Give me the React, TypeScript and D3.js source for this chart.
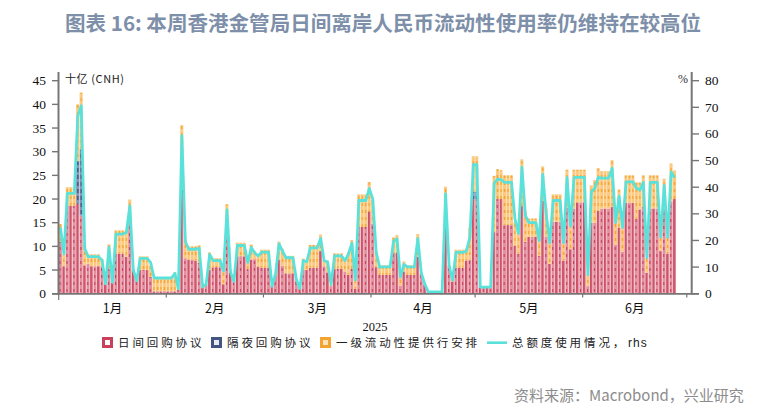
import React from "react";
import * as d3 from "d3";

const title = "图表 16: 本周香港金管局日间离岸人民币流动性使用率仍维持在较高位";
const source = "资料来源：Macrobond，兴业研究";
const leftTicks = [0, 5, 10, 15, 20, 25, 30, 35, 40, 45];
const rightTicks = [0, 10, 20, 30, 40, 50, 60, 70, 80];
const monthLabels = ["1月", "2月", "3月", "4月", "5月", "6月"];
const monthStarts = ["2025-01-01", "2025-02-01", "2025-03-01", "2025-04-01", "2025-05-01", "2025-06-01", "2025-07-01"];
const firstDay = "2025-01-01";

const intradayRepo = [
  11, 5.8, 18.6, 18.6, 18.6, 19, 16.5, 6, 6.3, 5.8,
  5.8, 5.8, 5.8, 2, 5.3, 2.3, 8.5, 8.5, 8.5, 7.8,
  15.5, 5, 2.7, 5, 5, 5, 3.6, .5, .5, .5,
  .5, .5, .5, .5, .9, 20.5, 7.5, 7.2, 7.2, 7,
  6.5, 1.3, 1.9, 5, 5.6, 5.6, 5.6, 2, 12, 4.5,
  2.6, 7.9, 7.9, 7.9, 5.2, 7.2, 7.3, 5.7, 5.5, 5.5,
  5.5, 1.7, 4, 7.2, 5.9, 4.3, 4.3, 4.3, 2.8, 1.1,
  5, 5, 5.5, 5.5, 5.5, 9, 5.8, 4.5, 1.6, 5.3,
  5.3, 5.3, 4.7, 4, 5.3, 1, 14.1, 14.1, 14.1, 17.4,
  14.8, 5.6, 4, 4, 4, 4, 8.6, 8.6, 1.7, 4.7,
  4, 4, 4, 7.8, 4.3, 1.9, .4, .3, .3, .3,
  .3, 14, 5.9, 2.5, 5.5, 5.5, 5.5, 7, 7.2, 20,
  20, 1.3, 1.3, 1.3, 1.3, 13, 20, 20, 14.5, 14.5,
  14.5, 10.1, 8.5, 18.5, 11, 12, 12, 12, 8, 19.7,
  12, 6.3, 15.2, 15.2, 15.2, 7, 18.2, 9.4, 18, 19.3,
  19.3, 19.3, 1.6, 15, 15, 17.5, 18, 18, 18, 18.3,
  10.3, 14, 8.9, 19.2, 19.2, 19.2, 15.8, 17.8, 18.3, 4.4,
  18, 18, 18, 9, 18, 8.5, 19.5, 20,
];
const overnightRepo = [
  0, 0, 0, 0, 0, 9, 14, 0, 0, 0,
  0, 0, 0, 0, 0, 0, 0, 0, 0, 0,
  0, 0, 0, 0, 0, 0, 0, 0, 0, 0,
  0, 0, 0, 0, 0, 1.5, 0, 0, 0, 0,
  0, 0, 0, 0, 0, 0, 0, 0, 0, 0,
  0, 0, 0, 0, 0, 0, 0, 0, 0, 0,
  0, 0, 0, 0, 0, 0, 0, 0, 0, 0,
  0, 0, 0, 0, 0, 0, 0, 0, 0, 0,
  0, 0, 0, 0, 0, 0, 0, 0, 0, 0,
  0, 0, 0, 0, 0, 0, 0, 0, 0, 0,
  0, 0, 0, 0, 0, 0, 0, 0, 0, 0,
  0, 0, 0, 0, 0, 0, 0, 0, 0, 1.6,
  1.6, 0, 0, 0, 0, 0, 0, 0, 0, 0,
  0, 0, 0, 0, 0, 0, 0, 0, 0, 0,
  0, 0, 0, 0, 0, 0, 0, 0, 0, 0,
  0, 0, 0, 0, 0, 0, 0, 0, 0, 0,
  0, 0, 0, 0, 0, 0, 0, 0, 0, 0,
  0, 0, 0, 0, 0, 0, 0, 0,
];
const standingFacility = [
  3.7, 2.5, 3.9, 3.9, 3.9, 12, 12, 4.5, 2, 2.5,
  2.5, 2.5, 1.5, .1, 5.1, .2, 4.9, 4.9, 4.9, 5.6,
  4.4, .2, .2, 2.9, 2.9, 2.9, 2.4, 2.8, 2.8, 2.8,
  2.8, 2.8, 2.8, 4, .1, 13.6, 4, 2.8, 2.8, 3,
  3.7, .2, .1, 3.7, 1.9, 1.9, 1.9, 2.8, 6.9, .5,
  .2, 2.9, 2.9, 2.9, 1.8, 3.2, 1.7, 2.7, 3.8, 3.8,
  3.8, .1, .2, 3.8, 3.6, 3.7, 3.7, 3.7, .2, .1,
  2.4, 1.8, 4.8, 4.8, 4.8, 3.5, 1.4, 2.5, .4, 3.2,
  3.2, 3.2, 2.6, 4.8, 6, 2, 6.9, 6.9, 6.9, 6.2,
  5, 3.4, 2, 2, 2, 2, 3.3, 3.8, 1.8, 2.1,
  2, 2, 2, 4.8, .2, .1, .1, .1, .1, .1,
  .1, 8.6, .1, .5, 3.8, 3.8, 3.8, 2.5, 6.8, 7.4,
  7.4, .2, .2, .2, .2, 11.9, 6.3, 6.1, 10.5, 10.5,
  10.5, 5, 4.3, 9.9, 6.5, 3.9, 3.9, 3.9, 4, 7.2,
  6, 5.2, 5.8, 5.8, 5.8, 5, 8, 5.1, 8.2, 6.9,
  6.9, 6.9, 2.4, 7.9, 9, 9, 7.9, 7.9, 7.9, 9.9,
  4.7, 8, 5.1, 5.8, 5.8, 5.8, 7.7, 5.7, 6.7, 3.1,
  7, 7, 7, 3.5, 6.3, 3.5, 8, 6,
];
const usagePct = [
  24.9, 15, 37.7, 37.7, 37.7, 66.7, 70.6, 17, 13.9, 13.9,
  13.9, 13.9, 12.6, 3.7, 17.4, 4.3, 22.4, 22.4, 22.4, 23,
  33, 8.9, 4.8, 13.3, 13.3, 13.3, 11.7, 5.9, 5.9, 5.9,
  5.9, 5.9, 5.9, 7.6, 1.8, 59.4, 19.6, 16.7, 16.7, 16.7,
  17, 2.5, 3.6, 14.8, 12.4, 12.4, 12.4, 8.5, 31.5, 8.2,
  4.6, 18.1, 18.1, 18.1, 11.7, 17.4, 15.3, 14.2, 15.6, 15.6,
  15.6, 2.8, 7.5, 18.7, 16, 13.5, 13.5, 13.5, 5.3, 2,
  12.4, 12, 17.2, 17.2, 17.2, 20.8, 12.4, 11.9, 3.4, 14.2,
  14.2, 14.2, 12.4, 14.9, 19, 5.2, 35, 35, 35, 39.5,
  35.6, 15.6, 10, 10.1, 10.1, 10.1, 19.7, 20.6, 6.2, 11,
  10.1, 10.1, 10.1, 20.8, 7.8, 3.6, .7, .7, .7, .7,
  .7, 37.5, 10.7, 5, 15.5, 15.5, 15.5, 16, 21.3, 48.5,
  48.5, 2.5, 2.5, 2.5, 2.5, 41.4, 43, 42.8, 41.8, 41.8,
  41.8, 28, 22.6, 47.5, 29.3, 26.7, 26.7, 26.7, 19.9, 44.8,
  30, 19.2, 35, 35, 35, 19.2, 43.6, 25.4, 43.6, 43.7,
  43.7, 43.7, 7.1, 38.2, 39.6, 43.7, 43.4, 43.4, 43.4, 47.1,
  26.7, 36.6, 24.9, 42, 42, 42, 39.6, 38.9, 41.8, 13.5,
  41.8, 41.8, 41.8, 21.3, 40.7, 21.2, 45.7, 43.6,
];
const legendLabels = ["日间回购协议", "隔夜回购协议", "一级流动性提供行安排", "总额度使用情况，"];

const C = { red: "#c8405a", navy: "#44557f", orange: "#f5a32f", teal: "#5ae2da", axis: "#767676", title: "#7d8fa9" };
const cjk = "'Noto Sans CJK SC', sans-serif";
const serif = "'Liberation Serif', serif";

export default function App() {
  const t0 = new Date(firstDay + "T00:00:00Z");
  const dayDate = (i: number) => d3.utcDay.offset(t0, i);
  const x = d3.scaleUtc().domain([t0, new Date("2025-07-01T00:00:00Z")]).range([58.7, 58.7 + 3.47 * 181]);
  const yL = d3.scaleLinear().domain([0, 45]).range([293.7, 80.7]);
  const yR = d3.scaleLinear().domain([0, 80]).range([293.7, 80.7]);
  const bw = 3.05;
  const line = d3
    .line<number>()
    .x((_, i) => x(dayDate(i)) + 1.73)
    .y((v) => yR(v))
    .curve(d3.curveLinear);
  const stacks = d3
    .stack<number>()
    .keys(["a", "b", "c"])
    .value((i, k) => (k === "a" ? intradayRepo[i] : k === "b" ? overnightRepo[i] : standingFacility[i]))(
    d3.range(intradayRepo.length)
  );
  const fills = ["url(#pRed)", "url(#pNavy)", "url(#pOrange)"];
  const ticksX = monthStarts.map((m) => x(new Date(m + "T00:00:00Z")));
  const tickTxt = { fontFamily: serif, fontSize: 13.5, fill: "#111" } as const;
  const legendTxt = { fontFamily: cjk, fontSize: 11.5, fill: "#222", letterSpacing: 2.9 } as const;

  return (
    <svg width={777} height={410} style={{ position: "absolute", left: 0, top: 0, background: "#fff" }}>
      <defs>
        <pattern id="pRed" width={6.94} height={7} patternUnits="userSpaceOnUse">
          <rect width={6.94} height={7} fill="#e391a0" />
          <rect x={0.2} y={0} width={1.5} height={7} fill={C.red} />
          <rect x={3.9} y={2} width={1.2} height={3} fill={C.red} />
        </pattern>
        <pattern id="pNavy" width={3.47} height={7} patternUnits="userSpaceOnUse">
          <rect width={3.47} height={7} fill="#8794b5" />
          <rect x={0.7} y={0} width={1.5} height={4} fill={C.navy} />
        </pattern>
        <pattern id="pOrange" width={3.47} height={7} patternUnits="userSpaceOnUse">
          <rect width={3.47} height={7} fill="#fbc97f" />
          <rect x={0.7} y={0} width={1.3} height={3} fill={C.orange} />
        </pattern>
      </defs>

      <text x={65} y={31} fontFamily={cjk} fontSize={20.55} fontWeight={700} fill={C.title}>
        {title}
      </text>

      <g>
        {stacks.map((s, k) =>
          s.map((p, i) =>
            p[1] - p[0] > 0 ? (
              <rect
                key={k + "-" + i}
                x={x(dayDate(i)) + 0.1}
                y={yL(p[1])}
                width={bw}
                height={yL(p[0]) - yL(p[1])}
                fill={fills[k]}
              />
            ) : null
          )
        )}
      </g>
      <path d={line(usagePct) || ""} fill="none" stroke={C.teal} strokeWidth={2.8} strokeLinejoin="round" />

      <g stroke={C.axis} fill="none">
        <line x1={58.5} x2={58.5} y1={72} y2={294.5} strokeWidth={2} />
        <line x1={691.7} x2={691.7} y1={72} y2={294.5} strokeWidth={2} />
        <line x1={52} x2={699} y1={293.9} y2={293.9} strokeWidth={1.6} />
        {leftTicks.map((v) => (
          <line key={v} x1={52} x2={58} y1={yL(v)} y2={yL(v)} strokeWidth={1.4} />
        ))}
        {rightTicks.map((v) => (
          <line key={v} x1={692} x2={699} y1={yR(v)} y2={yR(v)} strokeWidth={1.4} />
        ))}
        {ticksX.map((v, i) => (
          <line key={i} x1={v} x2={v} y1={294} y2={i === 0 ? 300 : 297.5} strokeWidth={1.2} />
        ))}
      </g>

      {leftTicks.map((v) => (
        <text key={v} x={46} y={yL(v) + 4.5} textAnchor="end" {...tickTxt}>
          {v}
        </text>
      ))}
      {rightTicks.map((v) => (
        <text key={v} x={705} y={yR(v) + 4.5} {...tickTxt}>
          {v}
        </text>
      ))}
      {monthLabels.map((m, i) => (
        <text key={m} x={(ticksX[i] + ticksX[i + 1]) / 2} y={313} textAnchor="middle" fontFamily={cjk} fontSize={12.5} fill="#111">
          {m}
        </text>
      ))}
      <text x={375} y={331} textAnchor="middle" {...tickTxt} fontSize={12.5}>
        2025
      </text>
      <text x={65} y={83} fontFamily={cjk} fontSize={11} fill="#222" letterSpacing={0.6}>
        十亿 (CNH)
      </text>
      <text x={678} y={83} fontFamily={serif} fontSize={12} fill="#333">
        %
      </text>

      {[
        { x: 102, c: C.red, f: "#fff" },
        { x: 211, c: C.navy, f: "#e8ebf3" },
        { x: 320, c: C.orange, f: "#fde3bd" },
      ].map((s, i) => (
        <g key={i}>
          <rect x={s.x + 1.5} y={338.5} width={8} height={8} fill={s.f} stroke={s.c} strokeWidth={3} />
          <text x={s.x + 16} y={347} {...legendTxt}>
            {legendLabels[i]}
          </text>
        </g>
      ))}
      <line x1={487} x2={507} y1={342.7} y2={342.7} stroke={C.teal} strokeWidth={2.6} />
      <text x={512} y={347} {...legendTxt}>
        {legendLabels[3]}
      </text>
      <text x={628} y={347} fontFamily="'Liberation Sans', sans-serif" fontSize={12} letterSpacing={1} fill="#222">
        rhs
      </text>

      <text x={514} y={400.5} fontFamily={cjk} fontSize={15} fill="#8c8c8c">
        {source}
      </text>
    </svg>
  );
}
